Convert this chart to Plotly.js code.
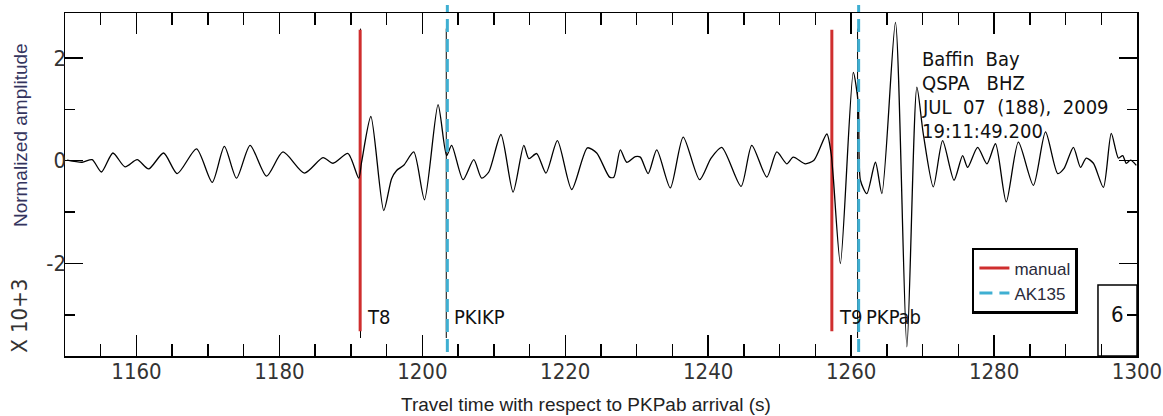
<!DOCTYPE html>
<html><head><meta charset="utf-8">
<script src="https://cdn.plot.ly/plotly-3.0.1.min.js"></script>
<style>html,body{margin:0;padding:0;background:#fff;}#chart{width:1163px;height:416px;}</style>
</head><body><div id="chart"></div>
<script>
// ---- data ----
const travelTime = [1150.3,1152.4,1153.8,1155.1,1156.7,1158.4,1160.1,1161.7,1163.8,1165.7,
  1168.4,1170.6,1172.3,1174.0,1175.9,1178.2,1180.5,1183.5,1186.1,1187.5,
  1189.6,1191.1,1191.5,1192.8,1194.6,1195.7,1196.4,1197.4,1198.8,1200.3,
  1202.2,1203.4,1204.1,1205.7,1207.2,1208.3,1209.3,1211.0,1212.7,1214.2,
  1214.9,1216.0,1217.3,1218.9,1220.9,1223.1,1224.4,1226.2,1226.8,1227.7,
  1228.6,1229.8,1230.5,1231.6,1232.8,1234.7,1236.5,1238.8,1240.4,1241.9,
  1244.6,1246.1,1248.2,1249.6,1251.0,1251.9,1253.6,1254.8,1256.6,1257.2,
  1257.5,1258.5,1260.3,1261.0,1261.3,1262.2,1263.4,1264.3,1266.2,1267.8,
  1269.2,1270.1,1271.5,1272.8,1274.4,1275.6,1276.3,1277.7,1279.0,1280.2,
  1281.7,1283.4,1285.5,1287.2,1288.9,1289.8,1291.1,1292.1,1292.9,1293.9,
  1295.3,1296.4,1297.4,1298.0,1298.5,1299.1,1299.9];
const amplitude = [0.01,-0.03,0.02,-0.22,0.15,-0.12,0.02,-0.16,0.15,-0.25,
  0.23,-0.42,0.28,-0.34,0.30,-0.30,0.17,-0.24,0.06,-0.05,
  0.14,-0.34,-0.03,0.86,-0.97,-0.35,-0.19,-0.09,0.17,-0.76,
  1.09,0.10,0.30,-0.37,0.02,-0.34,-0.22,0.51,-0.61,0.30,
  0.04,0.14,-0.24,0.39,-0.56,0.25,0.15,-0.32,-0.32,0.21,
  -0.03,0.08,0.07,-0.25,0.21,-0.53,0.46,-0.37,0.05,0.26,
  -0.50,0.30,-0.32,0.17,-0.06,0.07,-0.06,0.01,0.52,0.14,
  -0.32,-2.00,1.72,1.11,-0.38,-0.64,-0.03,-0.64,2.69,-3.62,
  1.43,0.52,-0.51,0.39,-0.38,0.10,-0.13,0.26,-0.06,0.33,
  -0.80,0.36,-0.48,0.56,-0.25,-0.15,0.26,-0.13,0.05,-0.05,
  -0.52,0.53,0.05,0.10,-0.05,0.01,-0.09];
const manualPickTimes = [1191.3, 1257.3];
const manualPickLabels = ['T8', 'T9'];
const ak135Times = [1203.5, 1261.05];
const ak135Labels = ['PKIKP', 'PKPab'];
const sacMarkerTimes = [1191.35, 1203.35, 1260.9];
const legendNames = ['manual', 'AK135'];
const xTickVals = [1160, 1180, 1200, 1220, 1240, 1260, 1280, 1300];
const yTickVals = [-2, 0, 2];
const yTickText = ['-2', '0', '2'];
const eventInfo = ['Baffin\u00a0 Bay', 'QSPA\u00a0\u00a0 BHZ', 'JUL\u00a0 07\u00a0 (188),\u00a0 2009', '19:11:49.200'];
const xTitle = 'Travel time with respect to PKPab arrival (s)';
const yTitle = 'Normalized amplitude';
const scaleLabel = 'X 10+3';
const panelNumber = '6';

// ---- styles ----
const RED = '#cf2e2e', CYAN = '#3fafd2';
const NARROW = 'Liberation Sans Narrow, DejaVu Sans Condensed, Arial Narrow, sans-serif';
const SANS = 'Liberation Sans, Arial, sans-serif';

function vlines(times, top, bottom) {
  const x = [], y = [];
  times.forEach(t => { x.push(t, t, null); y.push(top, bottom, null); });
  return {x, y};
}

const blk = vlines(sacMarkerTimes, 2.57, -3.45);
const red = vlines(manualPickTimes, 2.55, -3.32);

const traces = [
  {x: blk.x, y: blk.y, type: 'scatter', mode: 'lines', line: {color: '#000', width: 1}, showlegend: false, hoverinfo: 'skip'},
  {x: red.x, y: red.y, type: 'scatter', mode: 'lines', line: {color: RED, width: 3}, name: legendNames[0], showlegend: true},
  {x: travelTime, y: amplitude, type: 'scatter', mode: 'lines', line: {color: '#000', width: 1.3, shape: 'spline', smoothing: 0.7}, showlegend: false}
];

const shapes = ak135Times.map((t, i) => ({
  type: 'line', xref: 'x', yref: 'paper', x0: t, x1: t, y0: 0.012, y1: 1.023,
  line: {color: CYAN, width: 3, dash: '13px,7px'}, layer: 'above',
  showlegend: i === 0, name: legendNames[1], legendgroup: 'ak135'
}));
shapes.push({type: 'rect', xref: 'paper', yref: 'paper', x0: 0.9636, x1: 1, y0: 0, y1: 0.207,
  line: {color: '#000', width: 1.5}, layer: 'above'});

const annotations = [];
manualPickTimes.forEach((t, i) => annotations.push({x: t, y: -3.05, xref: 'x', yref: 'y', text: manualPickLabels[i],
  showarrow: false, xanchor: 'left', yanchor: 'middle', xshift: 5, font: {family: NARROW, size: 20, color: '#111'}}));
ak135Times.forEach((t, i) => annotations.push({x: t, y: -3.05, xref: 'x', yref: 'y', text: ak135Labels[i],
  showarrow: false, xanchor: 'left', yanchor: 'middle', xshift: 5, font: {family: NARROW, size: 20, color: '#111'}}));
eventInfo.forEach((s, i) => annotations.push({x: 0.7976, y: 0.867 - i * 0.0706, xref: 'paper', yref: 'paper', text: s,
  showarrow: false, xanchor: 'left', yanchor: 'middle', font: {family: NARROW, size: 20, color: '#111'}}));
annotations.push({x: -0.042, y: 0.644, xref: 'paper', yref: 'paper', text: yTitle, textangle: -90, showarrow: false,
  xanchor: 'center', yanchor: 'middle', font: {family: SANS, size: 19, color: '#34345e'}});
annotations.push({x: -0.042, y: 0.117, xref: 'paper', yref: 'paper', text: scaleLabel, textangle: -90, showarrow: false,
  xanchor: 'center', yanchor: 'middle', font: {family: NARROW, size: 22, color: '#333'}});
annotations.push({x: 0.486, y: -0.14, xref: 'paper', yref: 'paper', text: xTitle, showarrow: false,
  xanchor: 'center', yanchor: 'middle', font: {family: SANS, size: 19, color: '#222'}});
annotations.push({x: 0.982, y: 0.12, xref: 'paper', yref: 'paper', text: panelNumber, showarrow: false,
  xanchor: 'center', yanchor: 'middle', font: {family: NARROW, size: 22, color: '#111'}});

const layout = {
  width: 1163, height: 416,
  margin: {l: 65, r: 26, t: 13, b: 60, pad: 0},
  paper_bgcolor: '#fff', plot_bgcolor: '#fff',
  showlegend: true,
  legend: {x: 0.846, y: 0.315, xanchor: 'left', yanchor: 'top', bgcolor: '#fff', bordercolor: '#000', borderwidth: 2.5,
    font: {family: SANS, size: 17, color: '#2a2a3a'}, tracegroupgap: 0},
  xaxis: {range: [1150, 1300], showgrid: false, zeroline: false, showline: true, linecolor: '#000', linewidth: 1.5,
    mirror: 'ticks', ticks: 'inside', ticklen: 21, tickwidth: 1.5, tickcolor: '#000', ticklabelstandoff: -5,
    tickvals: xTickVals, tickfont: {family: NARROW, size: 22, color: '#333'},
    minor: {dtick: 5, tick0: 1150, ticks: 'inside', ticklen: 12, tickwidth: 1.5, tickcolor: '#000'}},
  yaxis: {range: [-3.8, 2.874], showgrid: false, zeroline: false, showline: true, linecolor: '#000', linewidth: 1.5,
    mirror: 'ticks', ticks: 'inside', ticklen: 18, tickwidth: 1.5, tickcolor: '#000', ticklabelstandoff: -7,
    tickvals: yTickVals, ticktext: yTickText, tickfont: {family: NARROW, size: 22, color: '#333'},
    minor: {dtick: 1, tick0: 0, ticks: 'inside', ticklen: 10, tickwidth: 1.5, tickcolor: '#000'}},
  shapes: shapes,
  annotations: annotations
};

Plotly.newPlot('chart', traces, layout, {staticPlot: true, displayModeBar: false});
</script></body></html>
